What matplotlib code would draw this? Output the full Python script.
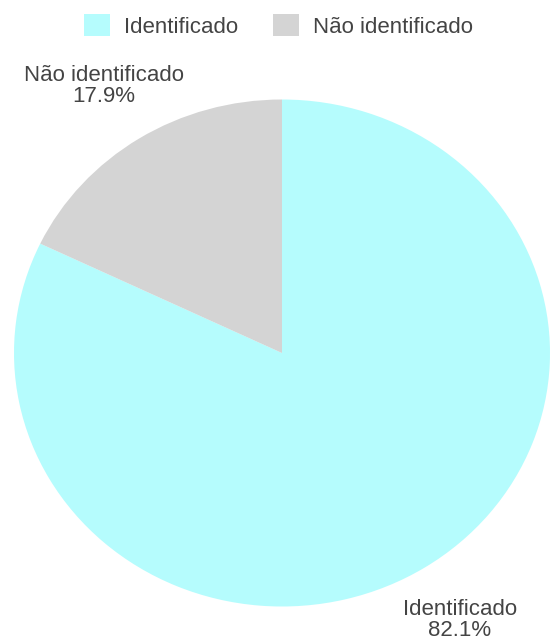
import numpy as np
import matplotlib
matplotlib.use("Agg")
import matplotlib.pyplot as plt
from matplotlib.patches import Patch

plt.rcParams['font.family'] = ['Liberation Sans', 'DejaVu Sans']

categories = ["Identificado", "Não identificado"]
values = [82.1, 17.9]
colors = ["#b5fcfd", "#d4d4d4"]
text_color = "#444444"

W, H = 550, 642
fig = plt.figure(figsize=(W / 100, H / 100), dpi=100)
fig.patch.set_facecolor("white")

# pie occupies a slightly wide ellipse
cx, cy, rx, ry = 282, 353, 268, 253.5
ax = fig.add_axes([(cx - rx) / W, (H - cy - ry) / H, 2 * rx / W, 2 * ry / H])

wedges, _ = ax.pie(values, colors=colors, startangle=90, counterclock=False,
                   wedgeprops=dict(linewidth=0))
ax.set_aspect('auto')
ax.set_xlim(-1, 1)
ax.set_ylim(-1, 1)
ax.axis('off')

total = sum(values)
label_r = 1.245
for w, name, v in zip(wedges, categories, values):
    mid = np.deg2rad((w.theta1 + w.theta2) / 2)
    ax.text(label_r * np.cos(mid), label_r * np.sin(mid),
            f"{name}\n{v / total * 100:.1f}%",
            ha='center', va='center', fontsize=16, color=text_color,
            linespacing=1.05)

handles = [Patch(facecolor=c, edgecolor='none') for c in colors]
fig.legend(handles, categories, loc='center', ncol=2,
           bbox_to_anchor=(278.5 / W, 1 - 26 / H), frameon=False,
           fontsize=16, labelcolor=text_color,
           handlelength=1.17, handleheight=1.13, handletextpad=0.63,
           columnspacing=1.55)

fig.savefig("out.png", dpi=100, facecolor="white")
